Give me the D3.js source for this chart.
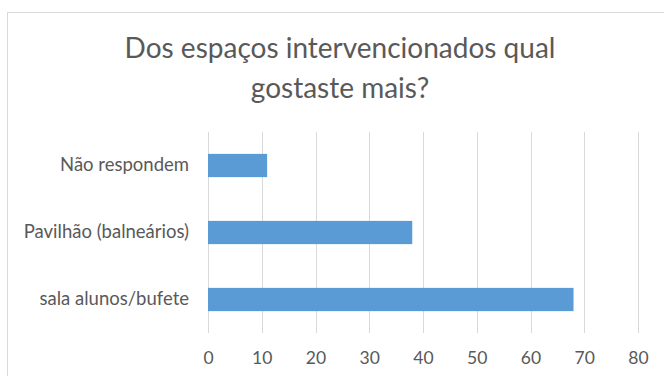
<!DOCTYPE html>
<html>
<head>
<meta charset="utf-8">
<script src="https://cdn.jsdelivr.net/npm/d3@7"></script>
<style>
  html, body { margin: 0; padding: 0; background: #fff; }
  svg { display: block; }
  text { font-family: Lato, "Open Sans", sans-serif; fill: #595959; }
</style>
</head>
<body>
<svg id="chart" width="664" height="376"></svg>
<script>
// Survey answers: which renovated space was liked most
const categories = ["Não respondem", "Pavilhão (balneários)", "sala alunos/bufete"];
const values = [11, 38, 68];
const tickValues = [0, 10, 20, 30, 40, 50, 60, 70, 80];
const titleLines = ["Dos espaços intervencionados qual", "gostaste mais?"];

const svg = d3.select("#chart");
const W = 664, H = 376;

// chart area frame (only top and left edges fall inside the view)
svg.append("rect")
  .attr("x", 7.5).attr("y", 12.5)
  .attr("width", W + 20).attr("height", H + 20)
  .attr("fill", "#fff")
  .attr("stroke", "#d9d9d9")
  .attr("stroke-width", 1);

// title
svg.append("g").selectAll("text")
  .data(titleLines)
  .join("text")
  .attr("x", 340)
  .attr("y", (d, i) => 58 + i * 40)
  .attr("text-anchor", "middle")
  .attr("font-size", 28)
  .text(d => d);

const plot = { left: 208, right: 638, top: 132, bottom: 333 };

const x = d3.scaleLinear().domain([0, 80]).range([plot.left, plot.right]);
const y = d3.scaleBand()
  .domain(categories)
  .range([plot.top, plot.bottom])
  .paddingInner(0.653)
  .paddingOuter(0.3265);

// vertical gridlines
svg.append("g").selectAll("line")
  .data(tickValues)
  .join("line")
  .attr("x1", d => Math.round(x(d)) + 0.5)
  .attr("x2", d => Math.round(x(d)) + 0.5)
  .attr("y1", plot.top)
  .attr("y2", plot.bottom)
  .attr("stroke", "#d9d9d9")
  .attr("stroke-width", 1);

// bars
svg.append("g").selectAll("rect")
  .data(values)
  .join("rect")
  .attr("x", x(0))
  .attr("y", (d, i) => y(categories[i]))
  .attr("width", d => x(d) - x(0))
  .attr("height", y.bandwidth())
  .attr("fill", "#5b9bd5");

// x axis labels
const xAxis = d3.axisBottom(x).tickValues(tickValues).tickSize(0).tickPadding(0);
const gx = svg.append("g")
  .attr("transform", `translate(0, ${plot.bottom + 19})`)
  .call(xAxis);
gx.select(".domain").remove();
gx.selectAll("text")
  .attr("font-size", 17.5)
  .attr("font-family", "Lato, 'Open Sans', sans-serif")
  .attr("fill", "#595959");

// category labels
const yAxis = d3.axisLeft(y).tickSize(0).tickPadding(0);
const gy = svg.append("g")
  .attr("transform", `translate(${plot.left - 19}, 0)`)
  .call(yAxis);
gy.select(".domain").remove();
gy.selectAll("text")
  .attr("font-size", 18.5)
  .attr("font-family", "Lato, 'Open Sans', sans-serif")
  .attr("fill", "#595959");
</script>
</body>
</html>
